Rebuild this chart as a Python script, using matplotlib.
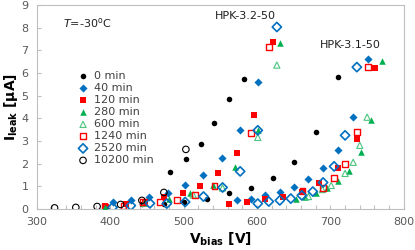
import matplotlib.pyplot as plt
from matplotlib.ticker import MultipleLocator

# leakage current vs bias, two sensors (HPK-3.2-50 and HPK-3.1-50) per annealing step
v_0 = [443, 473, 482, 503, 523, 542, 562, 582,
       501, 532, 562, 592, 622, 651, 681, 711]
i_0 = [0.20, 0.24, 1.62, 2.19, 2.85, 3.78, 4.85, 5.73,
       0.33, 0.46, 0.69, 0.91, 1.35, 2.06, 3.38, 5.82]

v_40 = [404, 428, 453, 478, 502, 527, 552, 577, 601,
        572, 592, 611, 631, 651, 670, 690, 711, 731, 751]
i_40 = [0.30, 0.38, 0.52, 0.72, 1.05, 1.50, 2.25, 3.47, 5.60,
        0.38, 0.46, 0.60, 0.73, 0.95, 1.31, 1.79, 2.59, 4.05, 6.62]

v_120 = [393, 421, 447, 473, 499, 522, 547, 572, 596, 622,
         562, 586, 611, 636, 661, 685, 711, 736, 761]
i_120 = [0.12, 0.24, 0.33, 0.51, 0.69, 1.00, 1.57, 2.46, 4.14, 7.37,
         0.24, 0.29, 0.42, 0.55, 0.77, 1.13, 1.79, 3.08, 6.22]

v_280 = [393, 480, 509, 540, 570, 601, 631,
         653, 666, 681, 696, 711, 726, 742, 755, 770]
i_280 = [0.10, 0.42, 0.69, 1.04, 1.84, 3.47, 7.32,
         0.42, 0.55, 0.69, 0.91, 1.22, 1.66, 2.50, 3.92, 6.53]

v_600 = [447, 513, 553, 601, 627,
         670, 689, 701, 720, 731, 740, 750]
i_600 = [0.25, 0.62, 0.93, 3.16, 6.35,
         0.55, 0.86, 1.04, 1.57, 2.06, 2.81, 4.05]

v_1240 = [393, 418, 445, 468, 491, 516, 542, 592, 616,
          662, 690, 705, 720, 736, 751]
i_1240 = [0.10, 0.15, 0.29, 0.29, 0.40, 0.62, 1.00, 3.34, 7.15,
          0.80, 0.93, 1.35, 2.00, 3.38, 6.26]

v_2520 = [403, 428, 454, 477, 502, 527, 553, 577, 601, 627,
          601, 616, 631, 646, 661, 676, 690, 705, 720, 736]
i_2520 = [0.07, 0.15, 0.25, 0.24, 0.31, 0.55, 0.95, 1.66, 3.47, 8.03,
          0.24, 0.33, 0.38, 0.46, 0.60, 0.77, 1.17, 1.88, 3.25, 6.26]

v_10200 = [324, 353, 382, 414, 443, 473, 503]
i_10200 = [0.05, 0.07, 0.11, 0.20, 0.38, 0.73, 2.63]

blue = '#0070C0'
red = '#FF0000'
green = '#00B050'
grey = '#BFBFBF'

plt.rcParams['font.family'] = 'DejaVu Sans'

fig = plt.figure(figsize=(4.15, 2.5), dpi=100)
ax = fig.add_axes([0.089, 0.164, 0.884, 0.816])

ax.scatter(v_0, i_0, s=16, marker='o', color='black', linewidths=0, label='0 min', zorder=3)
ax.scatter(v_40, i_40, s=17, marker='D', color=blue, linewidths=0, label='40 min', zorder=3)
ax.scatter(v_120, i_120, s=17, marker='s', color=red, linewidths=0, label='120 min', zorder=3)
ax.scatter(v_280, i_280, s=22, marker='^', color=green, linewidths=0, label='280 min', zorder=3)
ax.scatter(v_600, i_600, s=20, marker='^', facecolors='none', edgecolors='#4CC47F',
           linewidths=0.8, label='600 min', zorder=3)
ax.scatter(v_1240, i_1240, s=18, marker='s', facecolors='none', edgecolors=red,
           linewidths=1.0, label='1240 min', zorder=3)
ax.scatter(v_2520, i_2520, s=22, marker='D', facecolors='none', edgecolors=blue,
           linewidths=1.2, label='2520 min', zorder=3)
ax.scatter(v_10200, i_10200, s=22, marker='o', facecolors='none', edgecolors='black',
           linewidths=0.8, label='10200 min', zorder=3)

ax.set_xlim(300, 800)
ax.set_ylim(0, 9)
ax.xaxis.set_major_locator(MultipleLocator(100))
ax.xaxis.set_minor_locator(MultipleLocator(20))
ax.yaxis.set_major_locator(MultipleLocator(1))
ax.tick_params(which='both', direction='in', color=grey, labelcolor='#595959',
               labelsize=8, width=0.8)
ax.tick_params(axis='x', which='both', length=3, pad=6)
ax.tick_params(axis='y', which='both', length=3, pad=6)
for sp in ax.spines.values():
    sp.set_color(grey)
    sp.set_linewidth(0.8)

ax.set_xlabel(r'$\mathbf{V_{bias}}$ [V]', fontsize=10, fontweight='bold', labelpad=2)
ax.set_ylabel(r'$\mathbf{I_{leak}}$ [$\mathbf{\mu}$A]', fontsize=10, fontweight='bold', labelpad=1)

ax.text(0.071, 0.91, r'$T$=-30$^{\rm o}$C', transform=ax.transAxes, fontsize=8,
        color='#202020', va='center')
ax.text(0.567, 0.945, 'HPK-3.2-50', transform=ax.transAxes, fontsize=8,
        color='#202020', ha='center', va='center')
ax.text(0.853, 0.805, 'HPK-3.1-50', transform=ax.transAxes, fontsize=8,
        color='#202020', ha='center', va='center')

leg = ax.legend(loc='upper left', bbox_to_anchor=(0.112, 0.675), frameon=False,
                fontsize=8, borderpad=0, handlelength=0.9, handletextpad=0.5,
                labelspacing=0.18, borderaxespad=0)
for t in leg.get_texts():
    t.set_color('#404040')

plt.savefig('out.png', dpi=100)
plt.close()
